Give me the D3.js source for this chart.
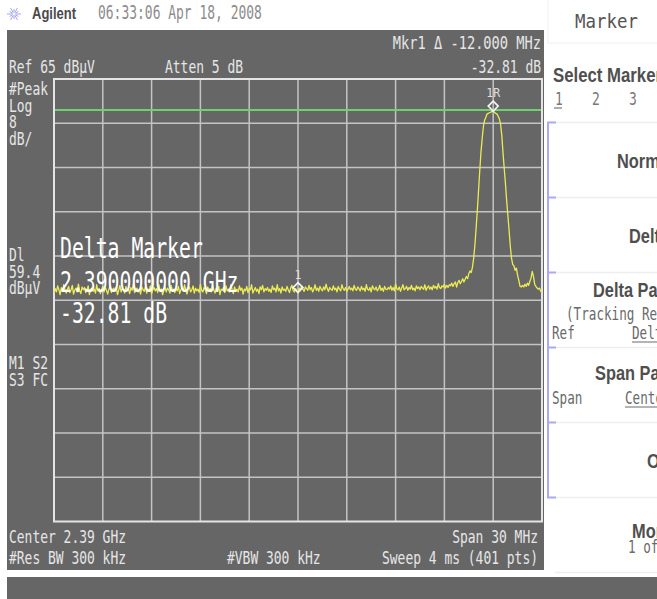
<!DOCTYPE html>
<html><head><meta charset="utf-8">
<script src="https://cdn.jsdelivr.net/npm/d3@7"></script>
<style>html,body{margin:0;padding:0;background:#fff;overflow:hidden}</style>
</head><body>
<svg id="screen" width="657" height="599"></svg>
<script>
// Sweep settings
const startHz = 2.375e9, stopHz = 2.405e9;
const refLevel = 65, dbPerDiv = 8, divisions = 10;
const displayLine = 59.4;
const deltaHz = -12e6;

// Trace amplitude, dBµV, 401 sweep points
const trace = [
  26.2,27.1,26.5,27.6,26.9, 26.0,27.3,26.6,27.8,26.8, 26.3,27.0,27.5,26.4,26.9, 27.7,26.1,26.8,27.2,26.5, 27.9,26.7,26.2,27.4,26.9,
  27.3,26.4,26.8,27.6,26.0, 26.9,27.2,26.6,27.0,26.3, 27.8,26.7,27.1,26.2,26.9, 27.5,26.5,27.3,26.8,26.1, 27.0,27.6,26.4,26.9,27.2,
  26.6,27.4,26.0,26.8,27.7, 26.5,27.1,26.9,26.3,27.5, 26.7,27.0,26.2,27.3,26.8, 27.9,26.4,26.7,27.2,26.5, 27.0,26.1,27.4,26.9,26.6,
  27.5,26.3,27.0,26.8,27.6, 26.2,26.9,27.3,26.7,27.1, 26.4,27.8,26.6,27.0,26.0, 26.8,27.4,26.5,27.2,26.9, 26.3,27.7,26.8,27.0,26.4,
  27.1,26.7,27.5,26.2,26.9, 27.3,26.6,27.8,26.8,26.1, 27.0,27.4,26.5,26.9,27.6, 26.3,27.2,26.7,27.0,26.4, 27.9,26.8,26.5,27.3,26.9,
  26.2,27.4,26.8,27.1,26.5, 27.7,26.9,26.3,27.2,26.6, 27.5,26.0,27.0,26.8,27.3, 26.4,27.6,26.7,27.0,26.5, 27.8,26.9,26.2,27.4,26.7,
  27.0,26.5,27.6,26.8,27.2, 26.1,27.0,26.7,27.5,26.4, 27.1,26.9,27.8,26.3,26.8, 27.3,26.6,27.0,26.2,27.4, 26.9,27.7,26.5,27.1,26.8,
  27.3,26.6,27.0,26.4,27.6, 26.9,27.2,26.5,27.8,26.7, 27.1,26.3,27.4,26.8,27.0, 26.6,27.5,26.9,26.4,27.2, 27.7,26.8,26.5,27.1,26.7,
  26.39,27.2,26.9,27.6,27.0, 26.6,27.4,27.1,26.8,27.7, 26.9,27.3,26.5,27.0,27.8, 26.8,27.2,26.6,27.5,27.0, 26.7,27.4,26.9,27.9,27.1,
  26.6,27.3,27.0,26.8,27.6, 26.9,27.2,26.5,27.5,27.0, 26.7,27.8,27.1,26.8,27.3, 26.6,27.0,27.5,26.9,27.2, 26.7,27.7,27.0,26.8,27.4,
  27.1,26.7,27.5,26.9,27.2, 26.6,27.8,27.0,26.8,27.3, 26.5,27.6,27.1,26.9,27.4, 26.7,27.0,27.7,26.8,27.2, 26.6,27.5,27.0,26.9,27.3,
  27.0,27.6,26.8,27.3,26.7, 27.9,27.1,26.9,27.4,26.6, 27.2,27.8,26.9,27.1,27.5, 26.8,27.3,27.0,27.7,26.9, 27.2,26.7,27.6,27.1,27.4,
  26.9,27.5,27.2,27.0,27.8, 26.8,27.3,27.6,27.0,27.4, 26.9,27.7,27.2,27.5,27.0, 28.0,27.3,27.1,27.6,27.4, 27.9,27.2,27.7,27.3,27.8,
  27.6,28.1,27.5,28.0,28.3, 27.4,28.2,28.6,28.0,28.4, 28.9,28.3,28.8,29.3,28.9, 29.8,30.3,30.0,31.0,
  32.6,35.0,38.0,41.3,44.9, 48.5,51.8,54.3,56.5,57.6, 58.1,58.7,58.8,58.9,59.0, 59.1,59.2,59.0,58.8,58.7,
  58.3,57.8,56.9,54.9,51.8, 48.9,46.2,43.1,40.4,37.7, 34.8,32.6,31.5,31.2,30.4, 30.8,29.5,28.6,27.5,27.4,
  27.7,27.4,27.9,27.5,28.1, 27.7,28.4,29.0,30.2,29.3, 27.9,27.5,27.2,27.0,27.2, 26.6,26.5
];

// Annotation text
const header = ["Agilent", "06:33:06  Apr 18, 2008"];
const topLeft = ["Ref 65 dBµV", "Atten 5 dB"];
const markerReadout = ["Mkr1 \u0394  -12.000 MHz", "-32.81 dB"];
const sideLabels = ["#Peak", "Log", "8", "dB/"];
const lineLabels = ["Dl", "59.4", "dBµV"];
const modeLabels = ["M1 S2", "S3 FC"];
const bottomLeft = ["Center 2.39 GHz", "#Res BW 300 kHz"];
const bottomMid = ["#VBW 300 kHz"];
const bottomRight = ["Span 30 MHz", "Sweep 4 ms (401 pts)"];
const bigReadout = ["Delta Marker", "2.390000000 GHz", "-32.81 dB"];
const menuTitle = "Marker";
const selectKey = "Select Marker";
const markerNumbers = ["1", "2", "3"];
const softTitles = ["Normal", "Delta", "Delta Pair", "Span Pair", "Off", "More"];

const svg = d3.select("#screen");
const G = {l: 54, r: 542, t: 79, b: 521.5};

const x = d3.scaleLinear().domain([startHz, stopHz]).range([G.l, G.r]);
const y = d3.scaleLinear().domain([refLevel - dbPerDiv * divisions, refLevel]).range([G.b, G.t]);
const step = (stopHz - startHz) / (trace.length - 1);
const freqAt = i => startHz + i * step;

const MONO = "'DejaVu Sans Mono', monospace";
function mono(g, px, py, str, o = {}) {
  const t = g.append("text").attr("x", px).attr("y", py).text(str)
    .attr("font-family", MONO).attr("font-size", o.size || 18)
    .attr("fill", o.fill || "#e6e6e6")
    .attr("textLength", str.length * (o.cw || 7.8)).attr("lengthAdjust", "spacingAndGlyphs");
  if (o.anchor) t.attr("text-anchor", o.anchor);
  if (o.weight) t.attr("font-weight", o.weight);
  return t;
}
function bold(g, px, py, str, o = {}) {
  return g.append("text").attr("transform", `translate(${px},${py}) scale(${o.sx || 0.84},1)`)
    .text(str).attr("font-family", "'Liberation Sans', Arial, sans-serif")
    .attr("font-weight", "bold").attr("font-size", o.size || 19.5).attr("fill", o.fill || "#4f4f4f");
}

// ---- header bar ----
const logo = svg.append("g").attr("transform", "translate(14,14)");
d3.range(12).forEach(k => {
  const a = k * Math.PI / 6;
  const r2 = k % 2 ? 5 : 7;
  logo.append("line").attr("x1", Math.cos(a) * 1.5).attr("y1", Math.sin(a) * 1.5)
    .attr("x2", Math.cos(a) * r2).attr("y2", Math.sin(a) * r2)
    .attr("stroke", "#a4a4ee").attr("stroke-width", 1);
});
svg.append("text").attr("x", 32).attr("y", 19).text(header[0])
  .attr("font-family", "'Liberation Sans', Arial, sans-serif").attr("font-weight", "bold")
  .attr("font-size", 16).attr("fill", "#4a4a4a").attr("textLength", 44).attr("lengthAdjust", "spacingAndGlyphs");
mono(svg, 98, 19, header[1], {fill: "#8c8c8c", size: 19, cw: 7.45});

// ---- analyzer display ----
svg.append("rect").attr("x", 7).attr("y", 30).attr("width", 537).attr("height", 540).attr("fill", "#666666");
svg.append("rect").attr("x", 7).attr("y", 577).attr("width", 650).attr("height", 22).attr("fill", "#666666");

const grid = svg.append("g");
d3.range(1, divisions).forEach(k => {
  const fx = x(startHz + k * (stopHz - startHz) / divisions);
  grid.append("line").attr("x1", fx).attr("x2", fx).attr("y1", G.t).attr("y2", G.b)
    .attr("stroke", "#c4c4c4").attr("stroke-width", 1.5);
  const gy = y(refLevel - k * dbPerDiv);
  grid.append("line").attr("x1", G.l).attr("x2", G.r).attr("y1", gy).attr("y2", gy)
    .attr("stroke", "#c4c4c4").attr("stroke-width", 1.5);
});
grid.append("rect").attr("x", G.l).attr("y", G.t).attr("width", G.r - G.l).attr("height", G.b - G.t)
  .attr("fill", "none").attr("stroke", "#e4e4e4").attr("stroke-width", 2);

// display line
svg.append("line").attr("x1", G.l + 1).attr("x2", G.r - 1).attr("y1", y(displayLine)).attr("y2", y(displayLine))
  .attr("stroke", "#6fd06f").attr("stroke-width", 2);

// trace
svg.append("defs").append("clipPath").attr("id", "plotclip").append("rect")
  .attr("x", G.l).attr("y", G.t).attr("width", G.r - G.l).attr("height", G.b - G.t);
const line = d3.line().x((d, i) => x(freqAt(i))).y(d => y(d));
svg.append("path").datum(trace).attr("d", line).attr("clip-path", "url(#plotclip)")
  .attr("fill", "none").attr("stroke", "#ecec52").attr("stroke-width", 1.3).attr("stroke-linejoin", "round");

// markers: reference on the peak, delta marker offset from it
const refIdx = d3.maxIndex(trace);
const dIdx = Math.round((freqAt(refIdx) + deltaHz - startHz) / step);
function marker(idx, label) {
  const mx = x(freqAt(idx)), my = y(trace[idx]) - 5;
  svg.append("path").attr("d", `M${mx},${my - 5}L${mx + 5},${my}L${mx},${my + 5}L${mx - 5},${my}Z`)
    .attr("fill", "none").attr("stroke", "#f4f4f4").attr("stroke-width", 1.6);
  svg.append("text").attr("x", mx).attr("y", my - 9).text(label).attr("text-anchor", "middle")
    .attr("font-family", MONO).attr("font-size", 12).attr("fill", "#dedede")
    .attr("textLength", label.length * 7).attr("lengthAdjust", "spacingAndGlyphs");
}
marker(refIdx, "1R");
marker(dIdx, "1");

// screen annotations
mono(svg, 9, 73, topLeft[0]);
mono(svg, 165, 73, topLeft[1]);
mono(svg, 541, 49, markerReadout[0], {anchor: "end"});
mono(svg, 541, 73, markerReadout[1], {anchor: "end"});
sideLabels.forEach((s, i) => mono(svg, 9, 95 + i * 16.5, s));
lineLabels.forEach((s, i) => mono(svg, 9, 261 + i * 16.5, s));
modeLabels.forEach((s, i) => mono(svg, 9, 369 + i * 16.5, s));
bottomLeft.forEach((s, i) => mono(svg, 9, 543 + i * 21, s));
mono(svg, 227, 564, bottomMid[0]);
bottomRight.forEach((s, i) => mono(svg, 538, 543 + i * 21, s, {anchor: "end"}));

// large delta readout
bigReadout.forEach((s, i) => {
  mono(svg, 60, [258, 292, 323][i], s, {size: 28, cw: 11.9, fill: "#ffffff"});
});

// ---- softkey menu ----
const menu = svg.append("g");
menu.append("line").attr("x1", 548).attr("x2", 657).attr("y1", 43).attr("y2", 43).attr("stroke", "#eeeeee");
menu.append("line").attr("x1", 548).attr("x2", 548).attr("y1", 0).attr("y2", 43).attr("stroke", "#f2f2f2");
mono(menu, 575, 28, menuTitle, {fill: "#555", size: 19, cw: 10.5});
bold(menu, 553, 82, selectKey, {sx: 0.86});
const numX = [555, 592, 629];
markerNumbers.forEach((s, i) => mono(menu, numX[i], 105, s, {fill: "#777", cw: 7.8}));
menu.append("line").attr("x1", 554).attr("x2", 562).attr("y1", 108).attr("y2", 108).attr("stroke", "#777").attr("stroke-width", 1.2);

const keyTop = 122.5, keyH = 75;
d3.range(7).forEach(k => {
  menu.append("line").attr("x1", 555).attr("x2", 657).attr("y1", keyTop + k * keyH).attr("y2", keyTop + k * keyH)
    .attr("stroke", "#eeeeee").attr("stroke-width", 1.5);
});
// group bracket
const br = d3.path();
br.moveTo(556, keyTop); br.lineTo(548, keyTop); br.lineTo(548, keyTop + 5 * keyH); br.lineTo(556, keyTop + 5 * keyH);
d3.range(1, 5).forEach(k => { br.moveTo(548, keyTop + k * keyH); br.lineTo(556, keyTop + k * keyH); });
menu.append("path").attr("d", br.toString()).attr("fill", "none").attr("stroke", "#aaaaf4").attr("stroke-width", 2);

const titleX = [617, 629, 593, 595, 647, 632];
const titleY = [168, 243, 297, 380, 468, 538];
softTitles.forEach((s, i) => bold(menu, titleX[i], titleY[i], s));
const subFill = "#6a6a6a";
mono(menu, 566, 320, "(Tracking Ref)", {fill: subFill, cw: 7.6});
mono(menu, 552, 339, "Ref", {fill: subFill, cw: 7.6});
mono(menu, 632, 339, "Delta", {fill: subFill, cw: 7.6});
menu.append("line").attr("x1", 632).attr("x2", 657).attr("y1", 342).attr("y2", 342).attr("stroke", subFill);
mono(menu, 552, 404, "Span", {fill: subFill, cw: 7.6});
mono(menu, 625, 404, "Center", {fill: subFill, cw: 7.6});
menu.append("line").attr("x1", 625).attr("x2", 657).attr("y1", 407).attr("y2", 407).attr("stroke", subFill);
mono(menu, 628, 553, "1 of 2", {fill: subFill, cw: 7.6});
</script>
</body></html>
